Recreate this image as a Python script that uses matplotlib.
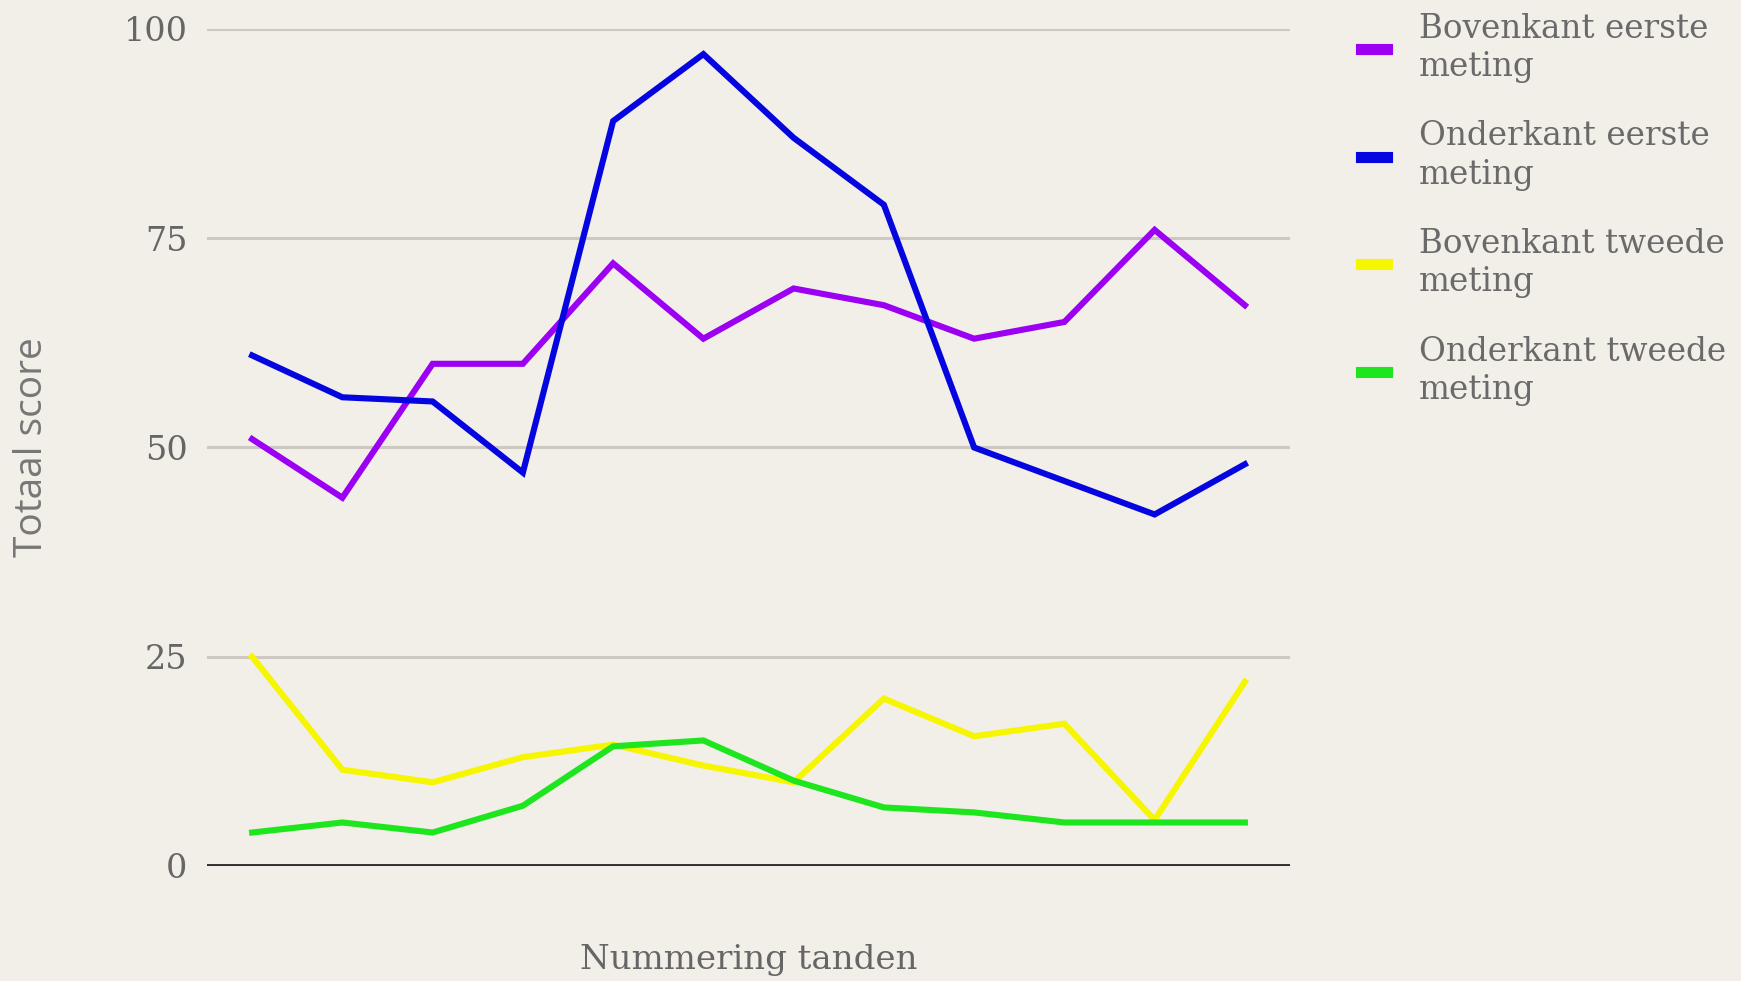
import matplotlib
matplotlib.use("Agg")
import matplotlib.pyplot as plt
import numpy as np

teeth = list(range(1, 13))
bovenkant_eerste = [51, 44, 60, 60, 72, 63, 69, 67, 63, 65, 76, 67]
onderkant_eerste = [61, 56, 55.5, 47, 89, 97, 87, 79, 50, 46, 42, 48]
bovenkant_tweede = [25, 11.5, 10, 13, 14.5, 12, 10, 20, 15.5, 17, 5.5, 22]
onderkant_tweede = [4, 5.2, 4, 7.2, 14.3, 15, 10.2, 7, 6.4, 5.2, 5.2, 5.2]

series_labels = ["Bovenkant eerste\nmeting", "Onderkant eerste\nmeting",
                 "Bovenkant tweede\nmeting", "Onderkant tweede\nmeting"]
colors = ["#9b00f2", "#0505e0", "#f6f600", "#1ee61e"]
yticks = [0, 25, 50, 75, 100]

bg = "#f2eee8"
fig = plt.figure(figsize=(17.41, 9.81), dpi=100, facecolor=bg)
ax = fig.add_axes([207/1741, 1-866/981, (1290-207)/1741, (866-29)/981])
ax.set_facecolor(bg)

x = np.arange(len(teeth))
for vals, c, lab in zip([bovenkant_eerste, onderkant_eerste, bovenkant_tweede, onderkant_tweede],
                        colors, series_labels):
    ax.plot(x, vals, color=c, lw=4.4, label=lab, solid_joinstyle="miter", zorder=3)

ax.set_xlim(-0.5, len(teeth) - 0.5)
ax.set_ylim(0, 100)
ax.set_yticks(yticks)
ax.set_yticklabels([str(t) for t in yticks])
ax.set_xticks([])
for t in yticks:
    if t == 0:
        ax.axhline(t, color="#2e2e2e", lw=2.8, zorder=2)
    else:
        ax.axhline(t, color="#cdc8c2", lw=2.2, zorder=1)
for s in ax.spines.values():
    s.set_visible(False)
ax.tick_params(axis="y", length=0, pad=14, labelsize=24, labelcolor="#666666")
for lbl in ax.get_yticklabels():
    lbl.set_family("DejaVu Serif")

ax.set_ylabel("Totaal score", fontsize=28, color="#777777", family="Open Sans", labelpad=52)
ax.set_xlabel("Nummering tanden", fontsize=24.5, color="#666666", family="DejaVu Serif", labelpad=56)

leg = ax.legend(loc="upper left", bbox_to_anchor=(1354/1741, 1 - 6/981), bbox_transform=fig.transFigure,
                frameon=False, handlelength=0.8, handletextpad=1.0, labelspacing=1.15,
                borderaxespad=0, borderpad=0.2,
                prop={"family": "DejaVu Serif", "size": 23.5})
for t in leg.get_texts():
    t.set_color("#6a6a6a")
    t.set_linespacing(1.25)
for h in leg.get_lines():
    h.set_linewidth(8)

fig.savefig("out.png", dpi=100, facecolor=bg)
